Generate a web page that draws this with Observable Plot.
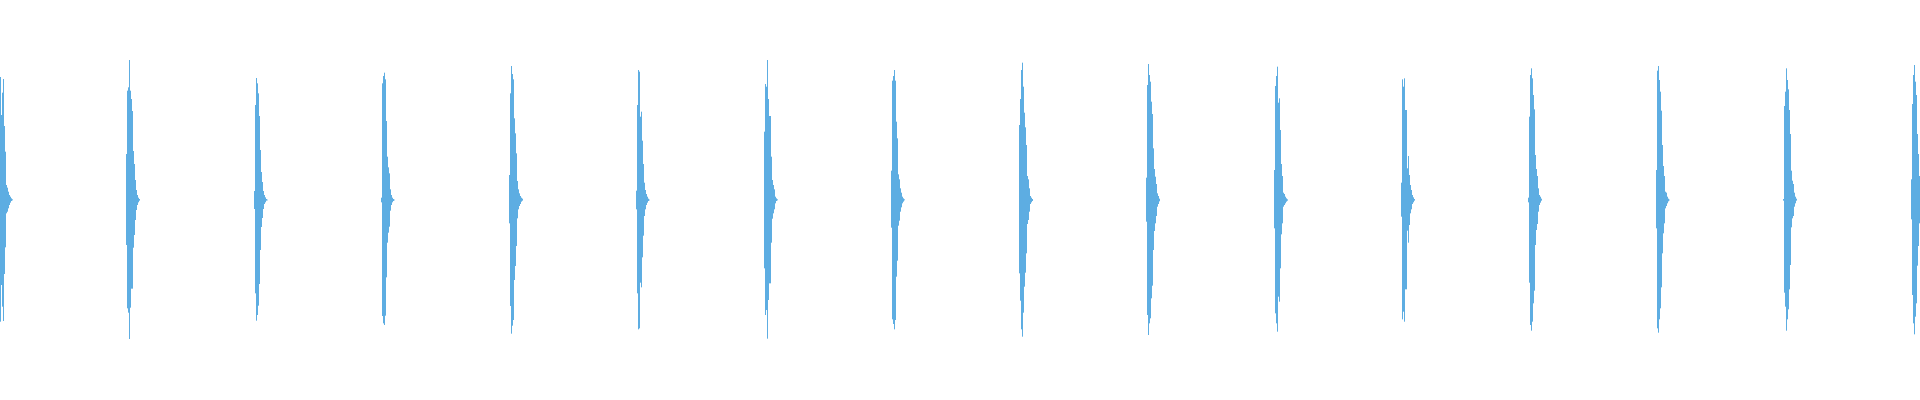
<!DOCTYPE html>
<html>
<head>
<meta charset="utf-8">
<script src="https://cdn.jsdelivr.net/npm/d3@7"></script>
<script src="https://cdn.jsdelivr.net/npm/@observablehq/plot@0.6"></script>
<style>
html, body { margin: 0; padding: 0; background: #ffffff; overflow: hidden; }
#chart svg { display: block; }
</style>
</head>
<body>
<div id="chart"></div>
<script>
// Onset (sample column) of each click burst
const onsets = [0, 126, 254, 381, 509, 636, 764, 891, 1019, 1146, 1274, 1401, 1528, 1656, 1783, 1911];

// Upper envelope (positive peak) per column of each burst
const upper = [
  [369, 255, 322, 363, 222, 145, 45, 37, 25, 15, 10, 5, 2],
  [138, 328, 338, 420, 328, 303, 267, 147, 108, 60, 30, 15, 7, 3],
  [27, 285, 366, 350, 320, 252, 150, 84, 54, 27, 15, 8, 3, 1],
  [7, 350, 372, 382, 362, 237, 130, 98, 80, 32, 15, 7, 3, 1],
  [75, 320, 402, 378, 362, 245, 200, 140, 57, 32, 20, 12, 7, 4],
  [28, 285, 390, 385, 250, 265, 178, 108, 52, 30, 18, 10, 4, 1],
  [205, 348, 340, 420, 303, 252, 252, 130, 60, 45, 32, 10, 5, 2],
  [88, 358, 372, 390, 358, 235, 185, 77, 62, 35, 22, 10, 5, 2],
  [225, 303, 390, 412, 340, 262, 218, 165, 72, 62, 35, 12, 7, 3],
  [67, 345, 408, 375, 355, 295, 258, 155, 93, 70, 48, 20, 12, 4],
  [90, 342, 372, 400, 292, 305, 210, 108, 72, 22, 18, 10, 5, 2],
  [52, 362, 340, 365, 270, 270, 95, 132, 75, 45, 30, 15, 8, 3],
  [7, 250, 375, 395, 365, 315, 272, 135, 93, 72, 35, 15, 10, 4],
  [90, 388, 402, 360, 325, 268, 165, 102, 72, 25, 22, 10, 4, 1],
  [3, 282, 325, 395, 360, 332, 270, 198, 88, 58, 48, 22, 10, 4],
  [62, 288, 375, 405, 355, 315, 198, 138, 72]
];

// Lower envelope (magnitude of negative peak) per column of each burst
const lower = [
  [365, 255, 320, 363, 222, 142, 40, 35, 25, 15, 8, 3, 1],
  [135, 325, 338, 417, 323, 266, 266, 143, 105, 60, 30, 15, 7, 2],
  [27, 280, 362, 345, 317, 252, 150, 81, 54, 27, 12, 7, 2, 1],
  [7, 348, 370, 375, 347, 232, 128, 98, 80, 32, 15, 7, 3, 1],
  [70, 318, 401, 377, 360, 240, 198, 138, 55, 28, 18, 12, 5, 2],
  [28, 280, 388, 385, 248, 262, 172, 107, 48, 28, 15, 8, 3, 1],
  [205, 345, 330, 416, 300, 250, 250, 128, 56, 40, 28, 10, 3, 1],
  [83, 358, 372, 388, 360, 230, 182, 77, 62, 35, 22, 10, 5, 1],
  [220, 302, 388, 410, 338, 260, 218, 160, 72, 60, 35, 12, 7, 3],
  [65, 345, 405, 370, 355, 295, 257, 150, 93, 70, 48, 20, 12, 4],
  [85, 340, 370, 395, 290, 305, 205, 103, 70, 20, 15, 10, 5, 2],
  [50, 358, 335, 365, 268, 268, 92, 128, 75, 40, 28, 12, 7, 2],
  [7, 248, 375, 392, 365, 310, 272, 135, 90, 72, 35, 15, 8, 2],
  [85, 385, 398, 358, 325, 262, 160, 100, 70, 25, 18, 10, 4, 1],
  [2, 278, 320, 392, 358, 328, 268, 195, 82, 55, 48, 20, 10, 2],
  [58, 285, 370, 403, 350, 310, 197, 138, 70]
];

const samples = [];
onsets.forEach((t0, b) => {
  upper[b].forEach((u, i) => {
    samples.push({ t0: t0 + i, t1: t0 + i + 1, hi: u, lo: -lower[b][i] });
  });
});

const chart = Plot.plot({
  width: 1920,
  height: 400,
  marginTop: 0,
  marginRight: 0,
  marginBottom: 0,
  marginLeft: 0,
  style: { background: "#ffffff" },
  x: { domain: [0, 1920], axis: null },
  y: { domain: [-600, 600], axis: null },
  marks: [
    Plot.rect(samples, { x1: "t0", x2: "t1", y1: "lo", y2: "hi", fill: "#5dade2" })
  ]
});
document.getElementById("chart").appendChild(chart);
</script>
</body>
</html>
